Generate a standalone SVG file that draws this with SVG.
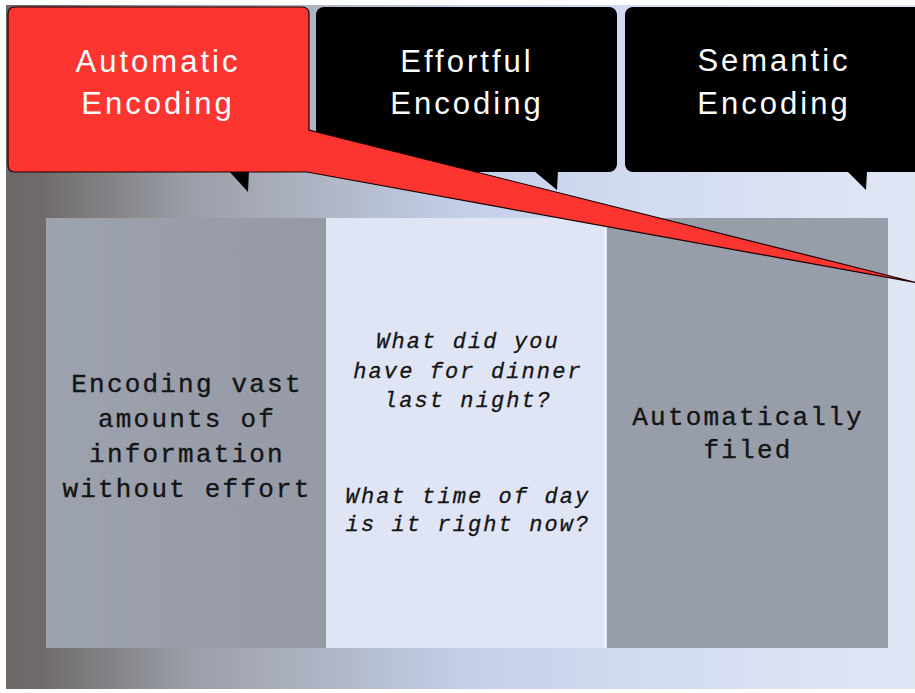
<svg xmlns="http://www.w3.org/2000/svg" width="915" height="693" viewBox="0 0 915 693">
  <defs>
    <linearGradient id="bg" x1="6" y1="0" x2="915" y2="0" gradientUnits="userSpaceOnUse">
      <stop offset="0" stop-color="#6c6866"/>
      <stop offset="0.04" stop-color="#6f6b6a"/>
      <stop offset="0.2" stop-color="#9a9ea7"/>
      <stop offset="0.36" stop-color="#b0b7c6"/>
      <stop offset="0.5" stop-color="#c3cee9"/>
      <stop offset="0.7" stop-color="#d2dbf0"/>
      <stop offset="1" stop-color="#e0e6f4"/>
    </linearGradient>
    <linearGradient id="colGray" x1="0" y1="0" x2="1" y2="0">
      <stop offset="0" stop-color="#9ca2ae"/>
      <stop offset="1" stop-color="#959aa5"/>
    </linearGradient>
    <style>
      .hdr { font-family: "Liberation Sans", "DejaVu Sans", sans-serif; font-size: 31px; fill: #ffffff; text-anchor: middle; letter-spacing: 3px; }
      .body { font-family: "Liberation Mono", "DejaVu Sans Mono", monospace; font-size: 26px; fill: #141414; text-anchor: middle; letter-spacing: 2.2px; stroke: #141414; stroke-width: 0.35px; }
      .q { font-family: "Liberation Mono", "DejaVu Sans Mono", monospace; font-size: 22px; font-style: italic; fill: #141414; text-anchor: middle; letter-spacing: 2.1px; stroke: #141414; stroke-width: 0.3px; }
      .black { fill: #000000; }
      .tail { fill: #000000; }
    </style>
  </defs>

  <rect x="0" y="0" width="915" height="693" fill="#ffffff"/>
  <rect id="background" x="6" y="5" width="909" height="684" fill="url(#bg)"/>

  <g id="col-automatic">
    <rect x="46" y="218" width="280" height="430" fill="url(#colGray)"/>
    <text class="body" x="187" y="392">Encoding vast</text>
    <text class="body" x="187" y="427">amounts of</text>
    <text class="body" x="187" y="462">information</text>
    <text class="body" x="187" y="497">without effort</text>
  </g>

  <g id="col-effortful">
    <rect x="326" y="218" width="281" height="430" fill="#dfe5f5"/>
    <line x1="605" y1="218" x2="605" y2="648" stroke="#eef1fa" stroke-width="2"/>
    <text class="q" x="468" y="348">What did you</text>
    <text class="q" x="468" y="378">have for dinner</text>
    <text class="q" x="468" y="407">last night?</text>
    <text class="q" x="468" y="503">What time of day</text>
    <text class="q" x="468" y="531">is it right now?</text>
  </g>

  <g id="col-semantic">
    <rect x="607" y="218" width="281" height="430" fill="#989ea9"/>
    <text class="body" x="748" y="425">Automatically</text>
    <text class="body" x="748" y="458">filed</text>
  </g>

  <g id="callout-effortful">
    <rect class="black" x="316" y="7" width="301" height="165" rx="8" ry="8"/>
    <path class="tail" d="M534,171 L558,171 L557,190 Z"/>
    <text class="hdr" x="467" y="72">Effortful</text>
    <text class="hdr" x="467" y="114">Encoding</text>
  </g>

  <g id="callout-semantic">
    <rect class="black" x="625" y="7" width="300" height="165" rx="8" ry="8"/>
    <path class="tail" d="M847,171 L867,171 L866,190 Z"/>
    <text class="hdr" x="774" y="71">Semantic</text>
    <text class="hdr" x="774" y="114">Encoding</text>
  </g>

  <g id="callout-automatic">
    <path class="tail" d="M228,170 L249,170 L248,192 Z"/>
    <path d="M15,7 L302,7 Q309,7 309,14 L309,130 L918,283 L307,172 L15,172 Q8,172 8,165 L8,14 Q8,7 15,7 Z" fill="#fd3530" stroke="#1a0000" stroke-width="1.2" stroke-linejoin="miter"/>
    <text class="hdr" x="158" y="72">Automatic</text>
    <text class="hdr" x="158" y="114">Encoding</text>
  </g>

  <g id="connectors"></g>
</svg>
